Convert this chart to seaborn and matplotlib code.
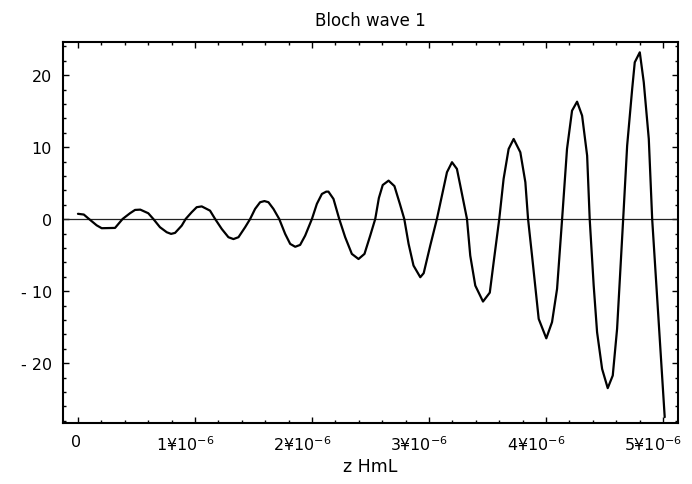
import matplotlib
matplotlib.use("Agg")
import matplotlib.pyplot as plt
import matplotlib.ticker as mticker
import matplotlib.transforms as mtrans
import numpy as np
import pandas as pd
import seaborn as sns

# z positions in micrometres, field values
z_um = [0.000, 0.050, 0.097, 0.160, 0.203, 0.317, 0.382, 0.445, 0.488, 0.533,
        0.601, 0.644, 0.701, 0.759, 0.796, 0.830, 0.887, 0.921, 0.972, 1.015,
        1.058, 1.129, 1.172, 1.229, 1.286, 1.329, 1.372, 1.429, 1.472, 1.514,
        1.557, 1.594, 1.628, 1.671, 1.720, 1.771, 1.814, 1.857, 1.899, 1.942,
        2.000, 2.042, 2.085, 2.122, 2.141, 2.184, 2.233, 2.284, 2.341, 2.398,
        2.449, 2.498, 2.541, 2.572, 2.605, 2.655, 2.705, 2.752, 2.789, 2.826,
        2.868, 2.926, 2.955, 3.011, 3.068, 3.111, 3.154, 3.197, 3.239, 3.268,
        3.325, 3.353, 3.396, 3.462, 3.520, 3.553, 3.601, 3.638, 3.681, 3.724,
        3.781, 3.824, 3.847, 3.881, 3.938, 4.003, 4.052, 4.095, 4.138, 4.180,
        4.223, 4.266, 4.309, 4.352, 4.374, 4.408, 4.437, 4.480, 4.528, 4.571,
        4.608, 4.660, 4.694, 4.737, 4.759, 4.802, 4.836, 4.879, 4.908, 5.015]
field = [0.75, 0.65, 0.0, -0.85, -1.25, -1.21, 0.04, 0.83, 1.29, 1.33,
         0.83, 0.04, -1.11, -1.81, -2.04, -1.90, -0.89, 0.04, 0.97, 1.67,
         1.78, 1.19, 0.04, -1.35, -2.50, -2.76, -2.50, -1.11, 0.04, 1.43,
         2.36, 2.52, 2.36, 1.43, 0.04, -2.04, -3.43, -3.83, -3.57, -2.28,
         0.04, 2.13, 3.51, 3.83, 3.83, 2.82, 0.04, -2.50, -4.82, -5.53,
         -4.82, -2.28, 0.04, 2.95, 4.75, 5.36, 4.60, 2.10, 0.04, -3.43,
         -6.44, -8.06, -7.50, -3.67, 0.04, 3.28, 6.53, 7.92, 6.99, 4.67,
         0.04, -5.06, -9.22, -11.44, -10.20, -5.97, 0.04, 5.60, 9.76, 11.15,
         9.30, 5.14, 0.04, -5.06, -13.85, -16.55, -14.30, -9.68, 0.0, 9.76,
         15.08, 16.33, 14.39, 8.83, 0.0, -9.22, -15.70, -20.80, -23.47, -21.72,
         -15.24, 0.0, 10.22, 18.10, 21.80, 23.19, 19.03, 11.15, 0.0, -27.50]

x_ticks = [0, 1e-6, 2e-6, 3e-6, 4e-6, 5e-6]
x_labels = ["0", "1¥10$^{-6}$", "2¥10$^{-6}$", "3¥10$^{-6}$", "4¥10$^{-6}$", "5¥10$^{-6}$"]
y_ticks = [-20, -10, 0, 10, 20]
y_labels = ["- 20", "- 10", "0", "10", "20"]

df = pd.DataFrame({"z": np.array(z_um) * 1e-6, "E": field})

sns.set_style("ticks")
plt.rcParams["font.family"] = ["DejaVu Sans"]
plt.rcParams["text.color"] = "black"
plt.rcParams["axes.labelcolor"] = "black"

fig = plt.figure(figsize=(6.92, 4.85), dpi=100)
ax = fig.add_axes([0.091, 0.126, 0.889, 0.785])

ax.axhline(0, color="#222222", lw=0.9, zorder=1)
sns.lineplot(data=df, x="z", y="E", ax=ax, color="black", lw=1.6, sort=False, zorder=2)

ax.set_xlim(-0.128e-6, 5.13e-6)
ax.set_ylim(-28.3, 24.6)

ax.set_xticks(x_ticks)
ax.set_xticklabels(x_labels, fontsize=11.5)
ax.set_yticks(y_ticks)
ax.set_yticklabels(y_labels, fontsize=11.5)
ax.xaxis.set_minor_locator(mticker.MultipleLocator(0.2e-6))
ax.yaxis.set_minor_locator(mticker.MultipleLocator(2))

ax.tick_params(which="both", direction="in", top=True, right=True, width=1.0,
               colors="black", labelcolor="black")
ax.tick_params(which="major", length=4.5, pad=8)
ax.tick_params(which="minor", length=2.5)

# Mathematica centres these labels a bit left of the tick
for i, lab in enumerate(ax.get_xticklabels()):
    dx = -2 if i == 0 else -10
    lab.set_transform(lab.get_transform() + mtrans.ScaledTranslation(dx / 100, 0, fig.dpi_scale_trans))

for s in ax.spines.values():
    s.set_linewidth(1.5)
    s.set_color("black")

ax.set_title("Bloch wave 1", fontsize=12, pad=12, color="black")
ax.set_xlabel("z HmL", fontsize=12.5, labelpad=3)
ax.set_ylabel("")

fig.savefig("out.png", dpi=100)
